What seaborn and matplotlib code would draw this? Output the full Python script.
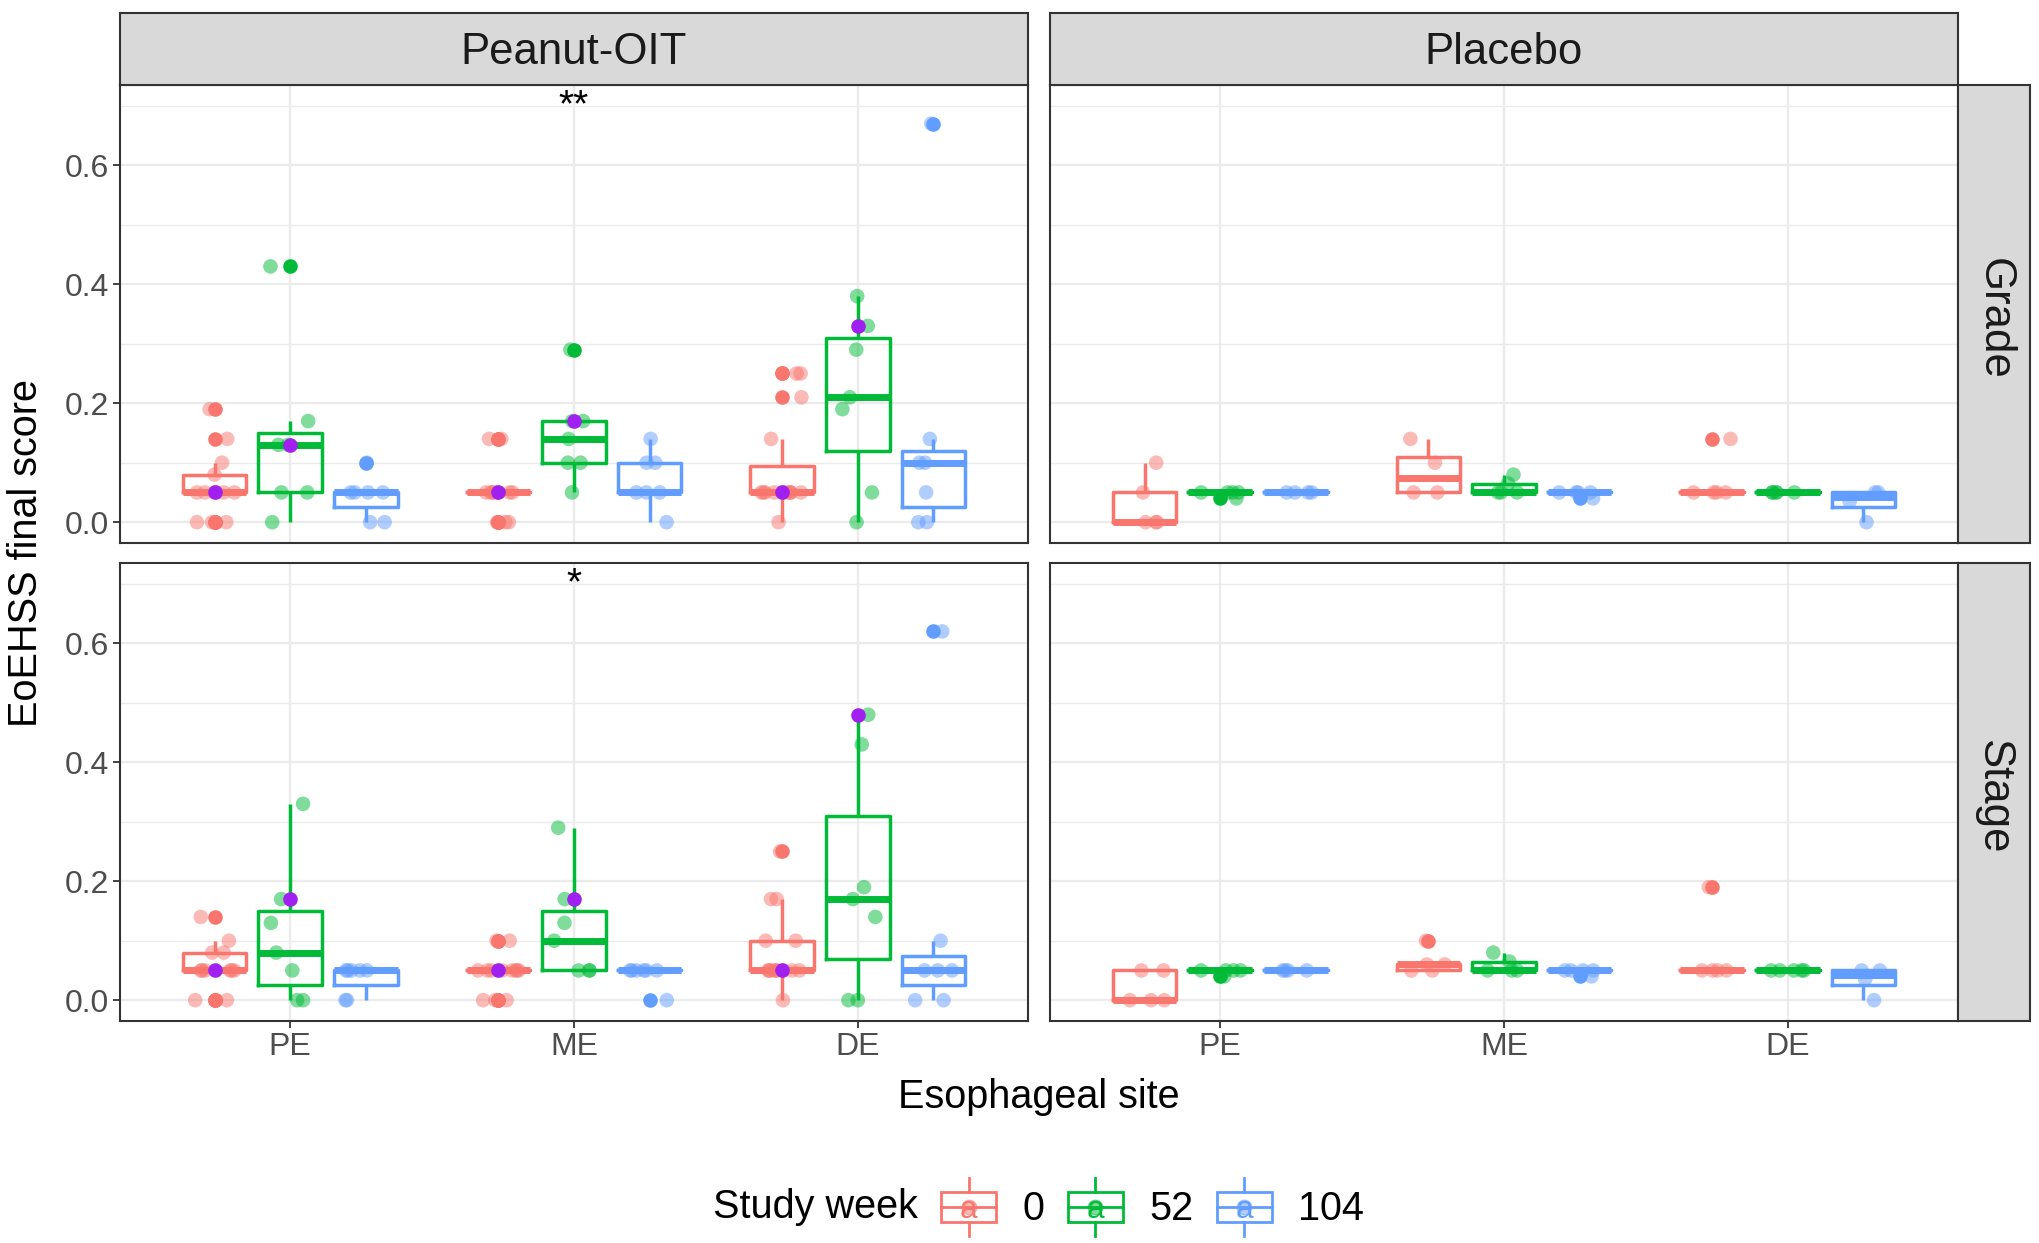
import numpy as np
import pandas as pd
import matplotlib
matplotlib.use("Agg")
import matplotlib.pyplot as plt
from matplotlib.legend_handler import HandlerBase
from matplotlib.patches import Rectangle
from matplotlib.lines import Line2D
from matplotlib.text import Text
import seaborn as sns

# ---- data ----
sites = ["PE", "ME", "DE"]
weeks = ["0", "52", "104"]
arms = ["Peanut-OIT", "Placebo"]
scores = ["Grade", "Stage"]

oit_grade_w0 = {
    "PE": [0, 0, 0, 0.05, 0.05, 0.05, 0.05, 0.05, 0.05, 0.08, 0.10, 0.14, 0.19],
    "ME": [0, 0, 0, 0.05, 0.05, 0.05, 0.05, 0.05, 0.05, 0.05, 0.05, 0.14, 0.14],
    "DE": [0, 0.05, 0.05, 0.05, 0.05, 0.05, 0.05, 0.05, 0.05, 0.05, 0.05, 0.14, 0.21, 0.25, 0.25],
}
oit_grade_w52 = {
    "PE": [0, 0.05, 0.05, 0.13, 0.13, 0.17, 0.43],
    "ME": [0.05, 0.10, 0.10, 0.14, 0.17, 0.17, 0.29],
    "DE": [0, 0.05, 0.19, 0.21, 0.29, 0.33, 0.38],
}
oit_grade_w104 = {
    "PE": [0, 0, 0.05, 0.05, 0.05, 0.05, 0.10],
    "ME": [0, 0.05, 0.05, 0.05, 0.10, 0.10, 0.14],
    "DE": [0, 0, 0.05, 0.10, 0.10, 0.14, 0.67],
}
oit_stage_w0 = {
    "PE": [0, 0, 0, 0.05, 0.05, 0.05, 0.05, 0.05, 0.05, 0.08, 0.08, 0.10, 0.14],
    "ME": [0, 0, 0, 0.05, 0.05, 0.05, 0.05, 0.05, 0.05, 0.05, 0.05, 0.10, 0.10],
    "DE": [0, 0.05, 0.05, 0.05, 0.05, 0.05, 0.05, 0.05, 0.05, 0.05, 0.10, 0.10, 0.17, 0.17, 0.25],
}
oit_stage_w52 = {
    "PE": [0, 0, 0.05, 0.08, 0.13, 0.17, 0.33],
    "ME": [0.05, 0.05, 0.05, 0.10, 0.13, 0.17, 0.29],
    "DE": [0, 0, 0.14, 0.17, 0.19, 0.43, 0.48],
}
oit_stage_w104 = {
    "PE": [0, 0, 0.05, 0.05, 0.05, 0.05, 0.05],
    "ME": [0, 0.05, 0.05, 0.05, 0.05, 0.05, 0.05],
    "DE": [0, 0, 0.05, 0.05, 0.05, 0.10, 0.62],
}

pbo_grade_w0 = {
    "PE": [0, 0, 0, 0.05, 0.10],
    "ME": [0.05, 0.05, 0.10, 0.14],
    "DE": [0.05, 0.05, 0.05, 0.05, 0.14],
}
pbo_grade_w52 = {
    "PE": [0.04, 0.05, 0.05, 0.05, 0.05],
    "ME": [0.05, 0.05, 0.05, 0.065, 0.08],
    "DE": [0.05, 0.05, 0.05, 0.05, 0.05],
}
pbo_grade_w104 = {
    "PE": [0.05, 0.05, 0.05, 0.05],
    "ME": [0.04, 0.05, 0.05, 0.05, 0.05],
    "DE": [0, 0.035, 0.05, 0.05],
}
pbo_stage_w0 = {
    "PE": [0, 0, 0, 0.05, 0.05],
    "ME": [0.05, 0.05, 0.06, 0.06, 0.10],
    "DE": [0.05, 0.05, 0.05, 0.05, 0.19],
}
pbo_stage_w52 = {
    "PE": [0.04, 0.05, 0.05, 0.05, 0.05],
    "ME": [0.05, 0.05, 0.05, 0.065, 0.08],
    "DE": [0.05, 0.05, 0.05, 0.05, 0.05],
}
pbo_stage_w104 = {
    "PE": [0.05, 0.05, 0.05, 0.05],
    "ME": [0.04, 0.05, 0.05, 0.05, 0.05],
    "DE": [0, 0.035, 0.05, 0.05],
}

# highlighted subject (purple), Peanut-OIT only, values for PE, ME, DE
purple_grade_w0 = [0.05, 0.05, 0.05]
purple_grade_w52 = [0.13, 0.17, 0.33]
purple_stage_w0 = [0.05, 0.05, 0.05]
purple_stage_w52 = [0.17, 0.17, 0.48]

# significance marks on ME, Peanut-OIT
stars = {"Grade": "**", "Stage": "*"}
star_y = 0.70

palette = {"0": "#F8766D", "52": "#00BA38", "104": "#619CFF"}
purple = "#A020F0"

groups = {
    ("Peanut-OIT", "Grade"): [oit_grade_w0, oit_grade_w52, oit_grade_w104],
    ("Peanut-OIT", "Stage"): [oit_stage_w0, oit_stage_w52, oit_stage_w104],
    ("Placebo", "Grade"): [pbo_grade_w0, pbo_grade_w52, pbo_grade_w104],
    ("Placebo", "Stage"): [pbo_stage_w0, pbo_stage_w52, pbo_stage_w104],
}
purples = {
    "Grade": [purple_grade_w0, purple_grade_w52],
    "Stage": [purple_stage_w0, purple_stage_w52],
}


def make_frame(week_dicts):
    rows = []
    for week, by_site in zip(weeks, week_dicts):
        for site in sites:
            for v in by_site[site]:
                rows.append({"site": site, "week": week, "value": v})
    return pd.DataFrame(rows)


def make_purple(lists):
    rows = []
    for week, vals in zip(weeks, lists):
        for site, v in zip(sites, vals):
            rows.append({"site": site, "week": week, "value": v})
    return pd.DataFrame(rows)


plt.rcParams["font.family"] = ["Liberation Sans", "DejaVu Sans"]

W, H = 2040, 1243
fig = plt.figure(figsize=(W / 100, H / 100), dpi=100)


def rect(x0, y0, x1, y1):
    return [x0 / W, 1 - y1 / H, (x1 - x0) / W, (y1 - y0) / H]


col_x = [(120, 1028), (1050, 1958)]
row_y = [(85, 543), (563, 1021)]
border = "#333333"
dot = 10.5

np.random.seed(7)

for r, score in enumerate(scores):
    for c, arm in enumerate(arms):
        x0, x1 = col_x[c]
        y0, y1 = row_y[r]
        ax = fig.add_axes(rect(x0, y0, x1, y1))
        data = make_frame(groups[(arm, score)])

        sns.boxplot(data=data, x="site", y="value", hue="week", order=sites,
                    hue_order=weeks, palette=palette, fill=False, width=0.8,
                    gap=0.16, linewidth=2.5, showcaps=False, whis=1.5,
                    flierprops=dict(marker="o", markersize=dot),
                    medianprops=dict(linewidth=5.0), legend=False, ax=ax)
        # ggplot draws outliers as solid dots in the box colour
        for line in ax.lines:
            if line.get_marker() == "o":
                col = line.get_markeredgecolor()
                line.set_markerfacecolor(col)
                line.set_markeredgewidth(0)

        sns.stripplot(data=data, x="site", y="value", hue="week", order=sites,
                      hue_order=weeks, palette=palette, dodge=True, jitter=0.22,
                      alpha=0.5, size=dot, linewidth=0, zorder=3, legend=False, ax=ax)

        if arm == "Peanut-OIT":
            pdata = make_purple(purples[score])
            sns.stripplot(data=pdata, x="site", y="value", hue="week", order=sites,
                          hue_order=weeks, palette={w: purple for w in weeks},
                          dodge=True, jitter=False, size=dot, linewidth=0, zorder=4,
                          legend=False, ax=ax)
            ax.text(1, star_y, stars[score], ha="center", va="center",
                    fontsize=28, color="black")

        ax.set_xlim(-0.6, 2.6)
        ax.set_ylim(-0.035, 0.735)
        ax.set_yticks([0, 0.2, 0.4, 0.6])
        ax.set_yticks([0.1, 0.3, 0.5, 0.7], minor=True)
        ax.set_yticklabels(["0.0", "0.2", "0.4", "0.6"])
        ax.set_xlabel("")
        ax.set_ylabel("")
        ax.set_axisbelow(True)
        ax.grid(which="major", color="#EBEBEB", linewidth=1.6)
        ax.grid(which="minor", axis="y", color="#EBEBEB", linewidth=1.0)
        for s in ax.spines.values():
            s.set_color(border)
            s.set_linewidth(1.5)
        ax.tick_params(which="minor", length=0)
        ax.tick_params(which="major", length=5, width=1.3, color=border,
                       labelsize=23, labelcolor="#4D4D4D", pad=3)
        if r == 0:
            ax.tick_params(axis="x", length=0, labelbottom=False)
        if c == 1:
            ax.tick_params(axis="y", length=0, labelleft=False)

        # strips
        if r == 0:
            sax = fig.add_axes(rect(x0, 13, x1, 85))
            sax.text(0.5, 0.45, arm, ha="center", va="center", fontsize=31.5,
                     color="#1A1A1A", transform=sax.transAxes)
        else:
            sax = None
        if c == 1:
            rax = fig.add_axes(rect(1958, y0, 2030, y1))
            rax.text(0.5, 0.49, score, ha="center", va="center", rotation=-90,
                     fontsize=31.5, color="#1A1A1A", transform=rax.transAxes)
        else:
            rax = None
        for a in (sax, rax):
            if a is None:
                continue
            a.set_facecolor("#D9D9D9")
            a.set_xticks([])
            a.set_yticks([])
            for s in a.spines.values():
                s.set_color(border)
                s.set_linewidth(1.5)

fig.text(26 / W, 1 - 553 / H, "EoEHSS final score", rotation=90, ha="center",
         va="center", fontsize=28.5, color="black")
fig.text(1039 / W, 1 - 1097 / H, "Esophageal site", ha="center", va="center",
         fontsize=28.5, color="black")


class BoxKey(HandlerBase):
    def create_artists(self, legend, orig_handle, xdescent, ydescent, width,
                       height, fontsize, trans):
        col = orig_handle.get_color()
        x0, y0 = -xdescent, -ydescent
        xm = x0 + 0.5 * width
        xa, xb = x0 + 0.04 * width, x0 + 0.96 * width
        box = Rectangle((xa, y0 + 0.25 * height), xb - xa, 0.5 * height,
                        fill=False, ec=col, lw=2.0, transform=trans)
        med = Line2D([xa, xb], [y0 + 0.5 * height] * 2, color=col, lw=2.0,
                     transform=trans)
        wlo = Line2D([xm, xm], [y0, y0 + 0.25 * height], color=col, lw=2.0,
                     transform=trans)
        whi = Line2D([xm, xm], [y0 + 0.75 * height, y0 + height], color=col,
                     lw=2.0, transform=trans)
        pt = Line2D([xm], [y0 + 0.5 * height], marker="o", markersize=dot,
                    color=col, alpha=0.5, linestyle="none", transform=trans)
        txt = Text(xm, y0 + 0.45 * height, "a", color=col, ha="center",
                   va="center", fontsize=fontsize * 0.8, transform=trans)
        return [box, med, wlo, whi, pt, txt]


handles = [Line2D([], [], color=palette[w]) for w in weeks]
fig.text(713 / W, 1 - 1207 / H, "Study week", ha="left", va="center",
         fontsize=28.5, color="black")
fig.legend(handles, weeks, loc="center left",
           bbox_to_anchor=(939 / W, 1 - 1207 / H), ncol=3, frameon=False,
           borderpad=0, borderaxespad=0, handlelength=1.5, handleheight=1.9,
           handletextpad=0.6, columnspacing=0.55, fontsize=28.5,
           handler_map={Line2D: BoxKey()})

fig.savefig("out.png", dpi=100)
